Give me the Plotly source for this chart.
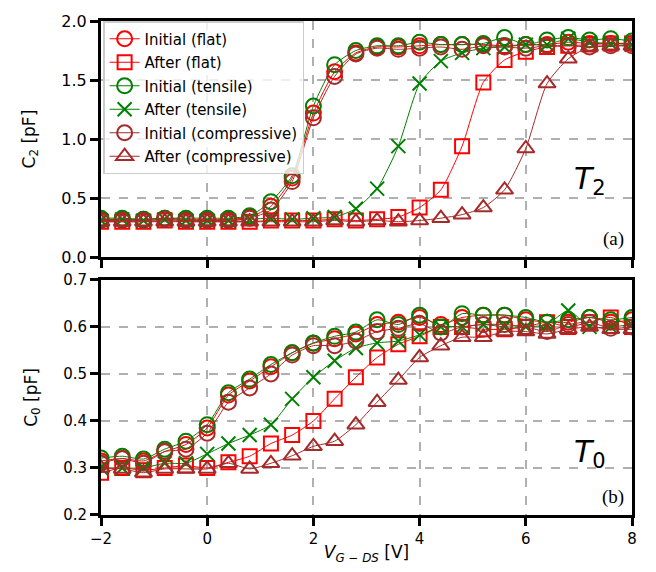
import plotly.graph_objects as go

x = [-2, -1.6, -1.2, -0.8, -0.4, 0, 0.4, 0.8, 1.2, 1.6, 2.0, 2.4, 2.8, 3.2, 3.6,
     4.0, 4.4, 4.8, 5.2, 5.6, 6.0, 6.4, 6.8, 7.2, 7.6, 8.0]

c2_init_flat = [0.32, 0.32, 0.32, 0.33, 0.32, 0.32, 0.32, 0.34, 0.43, 0.67, 1.22, 1.57, 1.73,
                1.78, 1.78, 1.79, 1.80, 1.80, 1.80, 1.79, 1.80, 1.80, 1.82, 1.81, 1.81, 1.81]
c2_after_flat = [0.30, 0.30, 0.30, 0.31, 0.30, 0.30, 0.30, 0.30, 0.31, 0.31, 0.31, 0.32, 0.31,
                 0.32, 0.34, 0.42, 0.57, 0.94, 1.48, 1.67, 1.74, 1.78, 1.79, 1.80, 1.81, 1.81]
c2_init_tensile = [0.33, 0.33, 0.32, 0.33, 0.33, 0.33, 0.33, 0.35, 0.47, 0.69, 1.28, 1.63, 1.75,
                   1.79, 1.79, 1.82, 1.80, 1.80, 1.81, 1.86, 1.80, 1.84, 1.86, 1.84, 1.85, 1.83]
c2_after_tensile = [0.31, 0.32, 0.31, 0.32, 0.31, 0.31, 0.31, 0.32, 0.33, 0.32, 0.33, 0.34, 0.41,
                    0.58, 0.94, 1.47, 1.66, 1.73, 1.77, 1.78, 1.80, 1.80, 1.85, 1.82, 1.81, 1.80]
c2_init_comp = [0.31, 0.31, 0.31, 0.32, 0.31, 0.31, 0.31, 0.33, 0.40, 0.64, 1.18, 1.53, 1.72,
                1.77, 1.76, 1.77, 1.78, 1.76, 1.79, 1.78, 1.77, 1.79, 1.79, 1.78, 1.79, 1.79]
c2_after_comp = [0.30, 0.30, 0.30, 0.30, 0.30, 0.30, 0.30, 0.30, 0.30, 0.30, 0.30, 0.31, 0.30,
                 0.31, 0.30, 0.31, 0.33, 0.36, 0.42, 0.57, 0.92, 1.47, 1.68, 1.78, 1.79, 1.79]

c0_init_flat = [0.315, 0.32, 0.315, 0.335, 0.35, 0.385, 0.455, 0.485, 0.515, 0.545, 0.565, 0.575, 0.585,
                0.605, 0.61, 0.62, 0.605, 0.62, 0.625, 0.625, 0.615, 0.61, 0.61, 0.62, 0.61, 0.615]
c0_after_flat = [0.29, 0.30, 0.295, 0.30, 0.305, 0.30, 0.312, 0.325, 0.352, 0.37, 0.40, 0.447, 0.493,
                 0.535, 0.563, 0.58, 0.60, 0.60, 0.595, 0.595, 0.60, 0.61, 0.60, 0.61, 0.62, 0.60]
c0_init_tensile = [0.321, 0.325, 0.319, 0.34, 0.357, 0.392, 0.46, 0.489, 0.52, 0.545, 0.566, 0.58, 0.589,
                   0.615, 0.605, 0.625, 0.60, 0.628, 0.625, 0.625, 0.62, 0.61, 0.615, 0.62, 0.615, 0.62]
c0_after_tensile = [0.30, 0.30, 0.30, 0.31, 0.31, 0.33, 0.352, 0.37, 0.392, 0.447, 0.493, 0.528, 0.555,
                    0.566, 0.57, 0.583, 0.60, 0.60, 0.605, 0.60, 0.60, 0.605, 0.635, 0.60, 0.60, 0.605]
c0_init_comp = [0.31, 0.32, 0.31, 0.335, 0.34, 0.374, 0.44, 0.47, 0.50, 0.54, 0.56, 0.56, 0.57,
                0.59, 0.597, 0.607, 0.587, 0.60, 0.605, 0.605, 0.60, 0.59, 0.605, 0.61, 0.597, 0.60]
c0_after_comp = [0.30, 0.298, 0.29, 0.298, 0.298, 0.298, 0.31, 0.298, 0.31, 0.326, 0.346, 0.357, 0.392,
                 0.44, 0.487, 0.535, 0.56, 0.578, 0.578, 0.59, 0.59, 0.585, 0.595, 0.60, 0.595, 0.595]

x_ticks = [-2, 0, 2, 4, 6, 8]
c2_ticks = [0, 0.5, 1.0, 1.5, 2.0]
c2_tick_text = ["0.0", "0.5", "1.0", "1.5", "2.0"]
c0_ticks = [0.2, 0.3, 0.4, 0.5, 0.6, 0.7]

names = ["Initial (flat)", "After (flat)", "Initial (tensile)", "After (tensile)",
         "Initial (compressive)", "After (compressive)"]
colors = ["red", "red", "green", "green", "brown", "brown"]
symbols = ["circle-open", "square-open", "circle-open", "x-thin-open", "circle-open", "triangle-up-open"]
sizes = [15, 14, 15, 14, 15, 15]
top_series = [c2_init_flat, c2_after_flat, c2_init_tensile, c2_after_tensile, c2_init_comp, c2_after_comp]
bot_series = [c0_init_flat, c0_after_flat, c0_init_tensile, c0_after_tensile, c0_init_comp, c0_after_comp]

fig = go.Figure()
for i in range(6):
    for ys, xa, ya, show in [(top_series[i], "x", "y", True), (bot_series[i], "x2", "y2", False)]:
        fig.add_trace(go.Scatter(
            x=x, y=ys, xaxis=xa, yaxis=ya, name=names[i], showlegend=show,
            legendgroup=names[i],
            mode="lines+markers",
            line=dict(color=colors[i], width=1, shape="spline", smoothing=0.6),
            marker=dict(symbol=symbols[i], size=sizes[i], color=colors[i],
                        line=dict(color=colors[i], width=2)),
        ))


def axis_common(tick_size):
    return dict(
        showline=True, linecolor="black", linewidth=3, mirror=True,
        ticks="outside", ticklen=8, tickwidth=2.5, tickcolor="black",
        showgrid=True, gridcolor="#b0b0b0", griddash="dash", gridwidth=1.5,
        zeroline=False, tickfont=dict(family="DejaVu Sans", size=tick_size, color="black"),
    )


fig.update_layout(
    width=656, height=572,
    margin=dict(l=101, r=24, t=13, b=57),
    paper_bgcolor="white", plot_bgcolor="white",
    font=dict(family="DejaVu Sans", size=14, color="black"),
    xaxis=dict(domain=[0, 1], anchor="y", range=[-2, 8], tickvals=x_ticks,
               showticklabels=False, **axis_common(15)),
    yaxis=dict(domain=[0.522, 1], anchor="x", range=[0, 2.0],
               tickvals=c2_ticks, ticktext=c2_tick_text,
               title=dict(text="C<sub>2</sub> [pF]", font=dict(size=17), standoff=22),
               **axis_common(16)),
    xaxis2=dict(domain=[0, 1], anchor="y2", range=[-2, 8], tickvals=x_ticks,
                title=dict(text="<i>V<sub>G − DS</sub></i> [V]", font=dict(size=17), standoff=0),
                **axis_common(15)),
    yaxis2=dict(domain=[0, 0.476], anchor="x2", range=[0.2, 0.7],
                tickvals=c0_ticks,
                title=dict(text="C<sub>0</sub> [pF]", font=dict(size=17), standoff=22),
                **axis_common(15)),
    legend=dict(x=0.004, y=1.0, xanchor="left", yanchor="top",
                bgcolor="rgba(255,255,255,0.8)", bordercolor="#cccccc", borderwidth=1.5,
                font=dict(family="DejaVu Sans", size=15), tracegroupgap=1,
                itemwidth=30),
    showlegend=True,
)

fig.add_annotation(xref="x", yref="y", x=7.2, y=0.65, text="<i>T</i><sub>2</sub>",
                   showarrow=False, font=dict(family="DejaVu Sans", size=30, color="black"))
fig.add_annotation(xref="x", yref="y", x=7.88, y=0.04, text="(a)", xanchor="right", yanchor="bottom",
                   showarrow=False, font=dict(family="Liberation Serif", size=19, color="black"))
fig.add_annotation(xref="x2", yref="y2", x=7.2, y=0.33, text="<i>T</i><sub>0</sub>",
                   showarrow=False, font=dict(family="DejaVu Sans", size=30, color="black"))
fig.add_annotation(xref="x2", yref="y2", x=7.88, y=0.21, text="(b)", xanchor="right", yanchor="bottom",
                   showarrow=False, font=dict(family="Liberation Serif", size=19, color="black"))

fig.write_html("out.html")
